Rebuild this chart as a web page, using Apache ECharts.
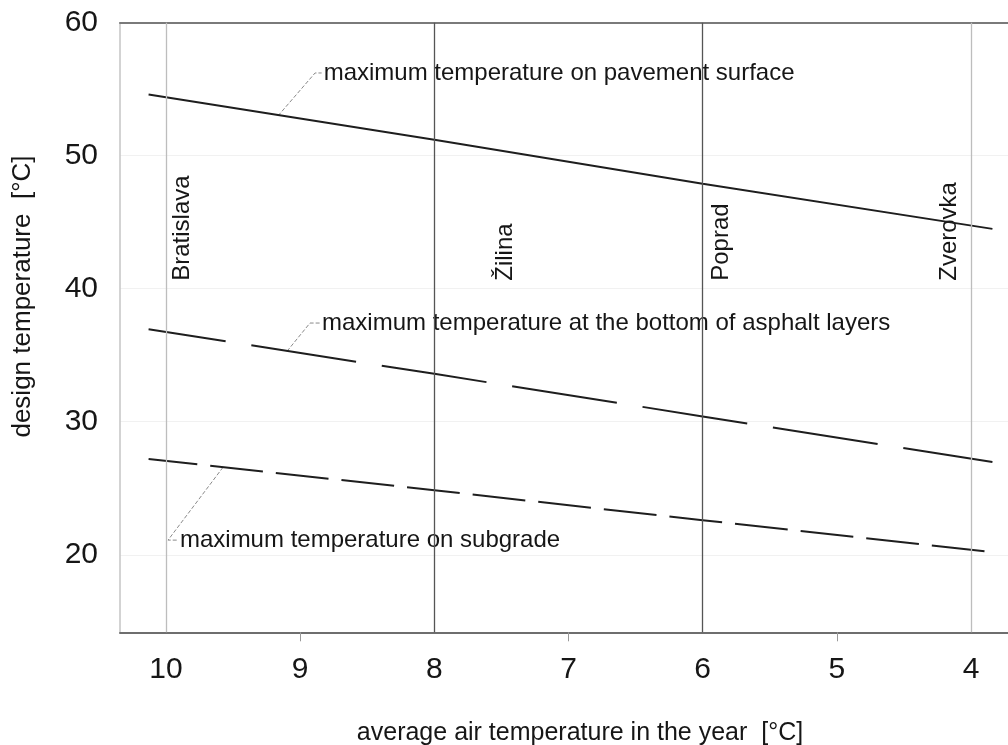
<!DOCTYPE html>
<html><head><meta charset="utf-8">
<script src="https://cdn.jsdelivr.net/npm/echarts@6/dist/echarts.min.js"></script>
<style>html,body{margin:0;padding:0;background:#fff}#c{width:1008px;height:745px}</style>
</head><body><div id="c"></div>
<script>
// ---- data ----
const xTickLabels = [10, 9, 8, 7, 6, 5, 4];
const xOuterTicks = [9, 7, 5];
const yTickLabels = [20, 30, 40, 50, 60];
const pavementSurface = [[10.13, 54.6], [8, 51.2], [6, 47.9], [3.84, 44.5]];
const asphaltBottom   = [[10.13, 36.95], [8, 33.6], [6, 30.4], [3.84, 26.97]];
const subgrade        = [[10.13, 27.2], [8, 24.85], [6, 22.6], [3.84, 20.2]];
const cityLinesX      = [10, 8, 6, 4];
const cityNames       = ['Bratislava', 'Žilina', 'Poprad', 'Zverovka'];
const cityLabelX      = [9.88, 7.47, 5.86, 4.16];
const cityLabelY      = 40.6;
const annotationTexts = [
  'maximum temperature on pavement surface',
  'maximum temperature at the bottom of asphalt layers',
  'maximum temperature on subgrade'
];
const leaderPavement = [[9.165, 53.0], [8.889, 56.22], [8.84, 56.22]];
const leaderAsphalt  = [[9.098, 35.3], [8.927, 37.42], [8.852, 37.42]];
const leaderSubgrade = [[9.575, 26.58], [9.985, 21.1], [9.911, 21.1]];

const FONT = "'Liberation Sans', Arial, Helvetica, sans-serif";
const TXT = '#161616';
const chart = echarts.init(document.getElementById('c'));

const xCommon = {
  type: 'value', inverse: true, min: 3.724, max: 10.343
};

function leaderSeries(pts, text) {
  return [{
    type: 'line', data: pts, symbol: 'none', silent: true, z: 1,
    lineStyle: { color: '#8a8a8a', width: 1, type: [4, 2] }
  }, {
    type: 'scatter', data: [pts[pts.length - 1]], symbolSize: 0, silent: true,
    itemStyle: { opacity: 1 },
    label: {
      show: true, position: 'right', distance: 2, formatter: text, opacity: 1,
      fontFamily: FONT, fontSize: 24, color: TXT, align: 'left', verticalAlign: 'middle'
    }
  }];
}

const cityData = cityNames.map((n, i) => [cityLabelX[i], cityLabelY, n]);

chart.setOption({
  animation: false,
  backgroundColor: '#fff',
  grid: { left: 120, right: 0, top: 22.7, bottom: 112.7, outerBoundsMode: 'none', containLabel: false },
  xAxis: [Object.assign({}, xCommon, {
    position: 'bottom',
    name: 'average air temperature in the year  [°C]',
    nameLocation: 'middle', nameGap: 88,
    nameTextStyle: { fontFamily: FONT, fontSize: 25, color: TXT, padding: [0, 0, 0, 32] },
    axisLine: { show: true, lineStyle: { color: '#6e6e6e', width: 2 } },
    axisTick: { show: true, customValues: xOuterTicks, length: 9, lineStyle: { color: '#999', width: 1 } },
    axisLabel: { customValues: xTickLabels, fontFamily: FONT, fontSize: 30, color: TXT, margin: 22 },
    splitLine: { show: false }
  }), Object.assign({}, xCommon, {
    position: 'top',
    axisLine: { show: true, lineStyle: { color: '#7a7a7a', width: 2 } },
    axisTick: { show: false }, axisLabel: { show: false }, splitLine: { show: false }
  })],
  yAxis: {
    type: 'value', min: 14.17, max: 60,
    name: 'design temperature  [°C]',
    nameLocation: 'middle', nameGap: 84, nameRotate: 90,
    nameTextStyle: { fontFamily: FONT, fontSize: 26, color: TXT, padding: [0, 0, 0, 62] },
    axisLine: { show: true, lineStyle: { color: '#c4c4c4', width: 1.5 } },
    axisTick: { show: false, customValues: yTickLabels },
    axisLabel: { customValues: yTickLabels, fontFamily: FONT, fontSize: 30, color: TXT, margin: 22, showMaxLabel: true },
    splitLine: { show: true, lineStyle: { color: '#f1f1f1', width: 1 } }
  },
  series: [
    {
      type: 'line', name: 'pavement', data: pavementSurface, symbol: 'none', z: 3,
      lineStyle: { color: '#1e1e1e', width: 2 },
      markLine: {
        silent: true, symbol: 'none', label: { show: false },
        data: cityLinesX.map(v => ({
          xAxis: v,
          lineStyle: { type: 'solid', width: 1.3, color: (v === 8 || v === 6) ? '#555' : '#bdbdbd' }
        }))
      }
    },
    {
      type: 'line', name: 'asphalt', data: asphaltBottom, symbol: 'none', z: 3,
      lineStyle: { color: '#1e1e1e', width: 2, type: [106, 26], dashOffset: 28 }
    },
    {
      type: 'line', name: 'subgrade', data: subgrade, symbol: 'none', z: 3,
      lineStyle: { color: '#1e1e1e', width: 2, type: [53, 13], dashOffset: 4 }
    },
    ...leaderSeries(leaderPavement, annotationTexts[0]),
    ...leaderSeries(leaderAsphalt, annotationTexts[1]),
    ...leaderSeries(leaderSubgrade, annotationTexts[2]),
    {
      type: 'scatter', data: cityData, symbolSize: 0, silent: true,
      itemStyle: { opacity: 1 },
      label: {
        show: true, position: 'inside', rotate: 90, align: 'left', verticalAlign: 'middle', opacity: 1,
        formatter: p => p.data[2], fontFamily: FONT, fontSize: 24, color: TXT
      }
    }
  ]
});
</script></body></html>
